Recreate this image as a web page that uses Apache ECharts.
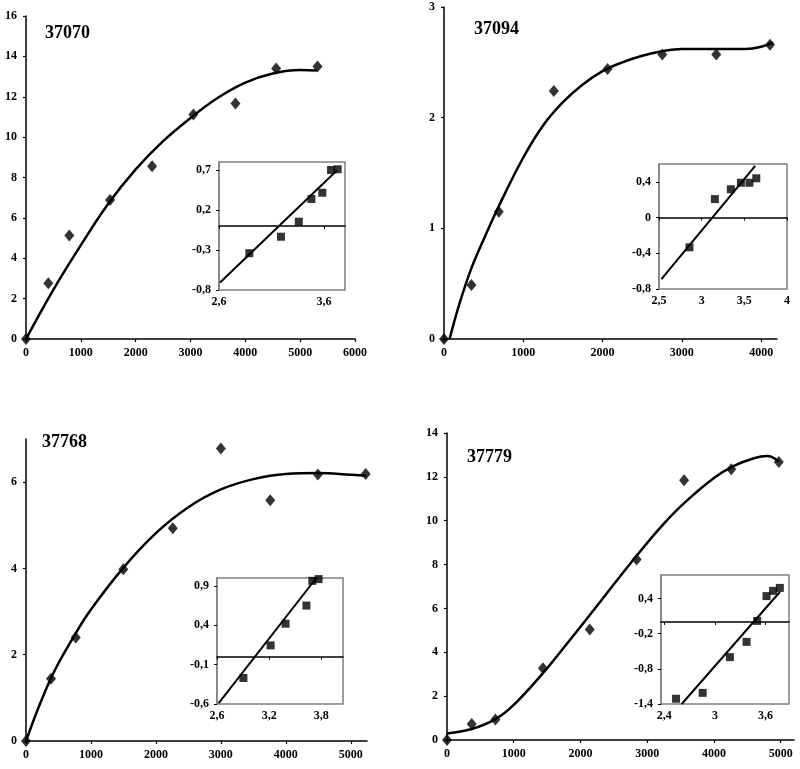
<!DOCTYPE html>
<html>
<head>
<meta charset="utf-8">
<script src="https://cdn.jsdelivr.net/npm/echarts@6/dist/echarts.min.js"></script>
<style>
html, body { margin: 0; padding: 0; background: #fff; }
#chart { width: 800px; height: 769px; }
</style>
</head>
<body>
<div id="chart"></div>
<script>
// 37070
const p1X = [0, 407, 790, 1533, 2300, 3053, 3820, 4562, 5316]
const p1Y = [0, 2.76, 5.13, 6.88, 8.56, 11.12, 11.67, 13.4, 13.5]
const p1CurveX = [0, 500, 1000, 1500, 2000, 2500, 3000, 3500, 4000, 4500, 5000, 5300]
const p1CurveY = [0, 2.45, 4.65, 6.7, 8.4, 9.8, 10.95, 11.95, 12.7, 13.15, 13.32, 13.3]
const p1InsetX = [2.889, 3.19, 3.36, 3.48, 3.584, 3.667, 3.73]
const p1InsetY = [-0.34, -0.134, 0.054, 0.338, 0.416, 0.70, 0.709]
const p1LineX = [2.61, 3.72]
const p1LineY = [-0.706, 0.69]

// 37094
const p2X = [0, 346, 691, 1385, 2063, 2753, 3434, 4112]
const p2Y = [0, 0.489, 1.15, 2.24, 2.44, 2.57, 2.57, 2.66]
const p2CurveX = [70, 200, 346, 500, 691, 1000, 1250, 1500, 1750, 2000, 2250, 2500, 2750, 3000, 3500, 3800, 4000, 4150]
const p2CurveY = [0, 0.33, 0.64, 0.9, 1.2, 1.64, 1.93, 2.14, 2.3, 2.42, 2.5, 2.56, 2.6, 2.62, 2.62, 2.62, 2.64, 2.68]
const p2InsetX = [2.556, 2.857, 3.155, 3.342, 3.46, 3.56, 3.64]
const p2InsetY = [-0.81, -0.333, 0.207, 0.317, 0.39, 0.39, 0.44]
const p2LineX = [2.528, 3.627]
const p2LineY = [-0.69, 0.58]

// 37768
const p3X = [0, 385, 766, 1499, 2260, 3000, 3760, 4494, 5230]
const p3Y = [0, 1.44, 2.40, 3.98, 4.93, 6.78, 5.58, 6.18, 6.19]
const p3CurveX = [0, 385, 766, 1000, 1500, 2000, 2500, 3000, 3500, 4000, 4500, 5000, 5230]
const p3CurveY = [0, 1.46, 2.5, 3.05, 4.02, 4.82, 5.42, 5.83, 6.07, 6.19, 6.21, 6.17, 6.15]
const p3InsetX = [2.904, 3.217, 3.389, 3.629, 3.697, 3.769]
const p3InsetY = [-0.27, 0.144, 0.42, 0.65, 0.964, 0.986]
const p3LineX = [2.62, 3.743]
const p3LineY = [-0.59, 1.0]

// 37779
const p4X = [0, 370, 726, 1438, 2140, 2842, 3553, 4260, 4972]
const p4Y = [0, 0.73, 0.94, 3.27, 5.04, 8.23, 11.85, 12.35, 12.68]
const p4CurveX = [0, 370, 726, 1000, 1438, 1800, 2140, 2500, 2842, 3200, 3553, 4000, 4300, 4600, 4800, 4972]
const p4CurveY = [0.3, 0.5, 0.95, 1.6, 3.05, 4.4, 5.7, 7.1, 8.4, 9.7, 10.8, 11.95, 12.5, 12.85, 12.95, 12.7]
const p4InsetX = [2.539, 2.855, 3.178, 3.376, 3.502, 3.613, 3.691, 3.771]
const p4InsetY = [-1.31, -1.21, -0.6, -0.34, 0.017, 0.44, 0.53, 0.58]
const p4LineX = [2.606, 3.771]
const p4LineY = [-1.4, 0.51]

// tick labels
const p1XTicks = [0, 1000, 2000, 3000, 4000, 5000, 6000]
const p1YTicks = [0, 2, 4, 6, 8, 10, 12, 14, 16]
const p2XTicks = [0, 1000, 2000, 3000, 4000]
const p2YTicks = [0, 1, 2, 3]
const p3XTicks = [0, 1000, 2000, 3000, 4000, 5000]
const p3YTicks = [0, 2, 4, 6]
const p4XTicks = [0, 1000, 2000, 3000, 4000, 5000]
const p4YTicks = [0, 2, 4, 6, 8, 10, 12, 14]
const i1XTicks = [2.6, 3.6]
const i1YTicks = [-0.8, -0.3, 0.2, 0.7]
const i2XTicks = [2.5, 3, 3.5, 4]
const i2YTicks = [-0.8, -0.4, 0, 0.4]
const i3XTicks = [2.6, 3.2, 3.8]
const i3YTicks = [-0.6, -0.1, 0.4, 0.9]
const i4XTicks = [2.4, 3, 3.6]
const i4YTicks = [-1.4, -0.8, -0.2, 0.4]

const FONT = 'Liberation Serif'

function pairs(xs, ys) {
  return xs.map((x, i) => [x, ys[i]])
}
function plain(v) {
  return String(v)
}
function comma(v) {
  return String(v).replace('.', ',')
}
function labelStyle(extra) {
  return Object.assign({
    fontFamily: FONT, fontWeight: 'bold', fontSize: 12, color: '#000'
  }, extra)
}

// main axes
function mainX(idx, max, ticks) {
  return {
    type: 'value', gridIndex: idx, min: 0, max: max,
    axisLine: { show: true, onZero: false, lineStyle: { color: '#000', width: 1.5 } },
    axisTick: { show: true, length: 3, customValues: ticks, lineStyle: { color: '#000', width: 1.2 } },
    axisLabel: labelStyle({ customValues: ticks, margin: 8, formatter: plain }),
    splitLine: { show: false }
  }
}
function mainY(idx, max, ticks) {
  return {
    type: 'value', gridIndex: idx, min: 0, max: max,
    axisLine: { show: true, onZero: false, lineStyle: { color: '#000', width: 1.5 } },
    axisTick: { show: true, length: 3, customValues: ticks, lineStyle: { color: '#000', width: 1.2 } },
    axisLabel: labelStyle({ customValues: ticks, margin: 9, formatter: plain }),
    splitLine: { show: false }
  }
}
// inset axes
function insetX(idx, min, max, ticks) {
  return {
    type: 'value', gridIndex: idx, min: min, max: max,
    axisLine: { show: true, onZero: true, lineStyle: { color: '#000', width: 1.5 } },
    axisTick: { show: true, length: 3, customValues: ticks, lineStyle: { color: '#000' } },
    axisLabel: labelStyle({ customValues: ticks, margin: 6, formatter: comma }),
    splitLine: { show: false }
  }
}
function insetY(idx, min, max, ticks) {
  return {
    type: 'value', gridIndex: idx, min: min, max: max,
    axisLine: { show: true, onZero: false, lineStyle: { color: '#808080', width: 1.5 } },
    axisTick: { show: true, length: 3, customValues: ticks, lineStyle: { color: '#000' } },
    axisLabel: labelStyle({ customValues: ticks, margin: 8, formatter: comma }),
    splitLine: { show: false }
  }
}

function curve(idx, xs, ys) {
  return {
    type: 'line', xAxisIndex: idx, yAxisIndex: idx, data: pairs(xs, ys),
    smooth: 0.4, showSymbol: false, z: 2,
    lineStyle: { color: '#000', width: 2.5 }
  }
}
function diamonds(idx, xs, ys) {
  return {
    type: 'scatter', xAxisIndex: idx, yAxisIndex: idx, data: pairs(xs, ys),
    symbol: 'diamond', symbolSize: [10, 12], z: 3,
    itemStyle: { color: '#000' }
  }
}
function squares(idx, xs, ys) {
  return {
    type: 'scatter', xAxisIndex: idx, yAxisIndex: idx, data: pairs(xs, ys),
    symbol: 'rect', symbolSize: 8, z: 3,
    itemStyle: { color: '#000' }
  }
}
function fitLine(idx, xs, ys) {
  return {
    type: 'line', xAxisIndex: idx, yAxisIndex: idx, data: pairs(xs, ys),
    showSymbol: false, z: 2,
    lineStyle: { color: '#000', width: 2 }
  }
}

const mainGrid = { show: false, outerBoundsMode: 'none' }
const insetGrid = { show: true, borderColor: '#808080', borderWidth: 1.5, outerBoundsMode: 'none' }

let option = {
  animation: false,
  backgroundColor: '#fff',
  title: [
    { text: '37070', left: 45, top: 24 },
    { text: '37094', left: 474, top: 20 },
    { text: '37768', left: 42, top: 433 },
    { text: '37779', left: 467, top: 448 }
  ].map(t => Object.assign(t, {
    padding: 0,
    textStyle: { fontFamily: FONT, fontWeight: 'bold', fontSize: 18, color: '#000' }
  })),
  grid: [
    Object.assign({ left: 26, top: 16, width: 329, height: 323 }, mainGrid),
    Object.assign({ left: 444, top: 7, width: 333, height: 332 }, mainGrid),
    Object.assign({ left: 26, top: 439, width: 341, height: 302 }, mainGrid),
    Object.assign({ left: 447, top: 433, width: 347, height: 307 }, mainGrid),
    Object.assign({ left: 219, top: 162, width: 126, height: 128 }, insetGrid),
    Object.assign({ left: 659, top: 164, width: 128, height: 125 }, insetGrid),
    Object.assign({ left: 217, top: 578, width: 126, height: 126 }, insetGrid),
    Object.assign({ left: 661, top: 575, width: 128, height: 129 }, insetGrid)
  ],
  xAxis: [
    mainX(0, 6000, p1XTicks),
    mainX(1, 4200, p2XTicks),
    mainX(2, 5250, p3XTicks),
    mainX(3, 5200, p4XTicks),
    insetX(4, 2.6, 3.8, i1XTicks),
    insetX(5, 2.5, 4, i2XTicks),
    insetX(6, 2.6, 4.05, i3XTicks),
    insetX(7, 2.36, 3.88, i4XTicks)
  ],
  yAxis: [
    mainY(0, 16, p1YTicks),
    mainY(1, 3, p2YTicks),
    mainY(2, 7, p3YTicks),
    mainY(3, 14, p4YTicks),
    insetY(4, -0.8, 0.8, i1YTicks),
    insetY(5, -0.8, 0.6, i2YTicks),
    insetY(6, -0.6, 1.0, i3YTicks),
    insetY(7, -1.4, 0.8, i4YTicks)
  ],
  series: [
    curve(0, p1CurveX, p1CurveY), diamonds(0, p1X, p1Y),
    curve(1, p2CurveX, p2CurveY), diamonds(1, p2X, p2Y),
    curve(2, p3CurveX, p3CurveY), diamonds(2, p3X, p3Y),
    curve(3, p4CurveX, p4CurveY), diamonds(3, p4X, p4Y),
    fitLine(4, p1LineX, p1LineY), squares(4, p1InsetX, p1InsetY),
    fitLine(5, p2LineX, p2LineY), squares(5, p2InsetX, p2InsetY),
    fitLine(6, p3LineX, p3LineY), squares(6, p3InsetX, p3InsetY),
    fitLine(7, p4LineX, p4LineY), squares(7, p4InsetX, p4InsetY)
  ]
}

let myChart = echarts.init(document.getElementById('chart'))
myChart.setOption(option)
</script>
</body>
</html>
